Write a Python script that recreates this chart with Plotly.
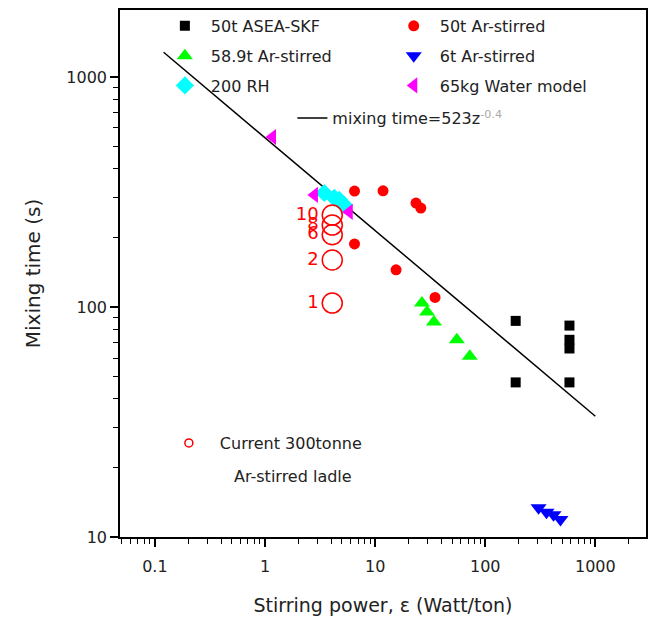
import plotly.graph_objects as go

# ---- data ----
asea_x = [189, 189, 582, 582, 582, 582]
asea_y = [87, 47, 83, 72, 66, 47]

ar50_x = [6.5, 11.8, 23.5, 26, 6.5, 15.5, 35]
ar50_y = [319, 320, 283, 269, 188, 145, 110]

ar589_x = [26.6, 29.6, 34.2, 55.2, 72.4]
ar589_y = [104, 95, 86, 72, 61]

ar6_x = [305, 360, 417, 482]
ar6_y = [13.4, 12.8, 12.5, 11.9]

rh_x = [3.45, 4.26, 5.24, 4.72]
rh_y = [313, 298, 277, 292]

water_x = [1.17, 2.81, 5.82]
water_y = [548, 307, 259]

fit_x = [0.12, 1000]
fit_y = [1280, 33.5]

cur_x = [4.08, 4.08, 4.08, 4.08, 4.08]
cur_y = [104, 160, 206, 227, 251]
cur_lbl = ["1", "2", "6", "8", "10"]

xticks = [0.1, 1, 10, 100, 1000]
yticks = [10, 100, 1000]

FONT = "DejaVu Sans"

fig = go.Figure()

def add(name, x, y, symbol, color, size, legend, group):
    fig.add_trace(go.Scatter(
        x=x, y=y, mode="markers", name=name, legend=legend, legendgroup=group,
        marker=dict(symbol=symbol, color=color, size=size, line=dict(width=0)),
    ))

fig.add_trace(go.Scatter(
    x=fit_x, y=fit_y, mode="lines", legend="legend3",
    name='mixing time=523z<sup><span style="color:#aaaaaa">-0.4</span></sup>',
    line=dict(color="black", width=1.5),
))

add("50t ASEA-SKF", asea_x, asea_y, "square", "#000000", 10, "legend", "a")
add("58.9t Ar-stirred", ar589_x, ar589_y, "triangle-up", "#00ff00", 14, "legend", "b")
add("200 RH", rh_x, rh_y, "diamond", "#00ffff", 14, "legend", "c")
add("50t Ar-stirred", ar50_x, ar50_y, "circle", "#ff0000", 11, "legend2", "d")
add("6t Ar-stirred", ar6_x, ar6_y, "triangle-down", "#0000ff", 14, "legend2", "e")
add("65kg Water model", water_x, water_y, "triangle-left", "#ff00ff", 14, "legend2", "f")

fig.add_trace(go.Scatter(
    x=cur_x, y=cur_y, mode="markers+text", text=cur_lbl, textposition="middle left",
    textfont=dict(family=FONT, size=18, color="#ff0000"), showlegend=False,
    marker=dict(symbol="circle-open", color="#ff0000", size=20, line=dict(width=1.5)),
))
# legend-only entry for the current ladle
fig.add_trace(go.Scatter(
    x=[None], y=[None], mode="markers", name="Current 300tonne", legend="legend4",
    marker=dict(symbol="circle-open", color="#ff0000", size=8, line=dict(width=1.5)),
))

minor_x = [k * 10 ** n for n in range(-2, 4) for k in range(2, 10)]
minor_y = [k * 10 ** n for n in range(1, 4) for k in range(2, 10)]

fig.update_xaxes(
    type="log", range=[-1.317, 3.46], tickvals=xticks, ticktext=["0.1", "1", "10", "100", "1000"],
    ticks="outside", ticklen=8, tickwidth=1.5, tickcolor="black", ticklabelstandoff=6,
    showline=True, linecolor="black", linewidth=1.5, mirror=True, showgrid=False, zeroline=False,
    minor=dict(tickvals=minor_x, ticks="outside", ticklen=5, tickwidth=1.2, tickcolor="black", showgrid=False),
    tickfont=dict(family=FONT, size=16, color="#222222"),
    title=dict(text="Stirring power, ε (Watt/ton)", font=dict(family=FONT, size=19, color="#222222"), standoff=24),
)
fig.update_yaxes(
    type="log", range=[1, 3.291], tickvals=yticks, ticktext=["10", "100", "1000"],
    ticks="outside", ticklen=8, tickwidth=1.5, tickcolor="black",
    showline=True, linecolor="black", linewidth=1.5, mirror=True, showgrid=False, zeroline=False,
    minor=dict(tickvals=minor_y, ticks="outside", ticklen=5, tickwidth=1.2, tickcolor="black", showgrid=False),
    tickfont=dict(family=FONT, size=16, color="#222222"),
    title=dict(text="Mixing time (s)", font=dict(family=FONT, size=20, color="#222222"), standoff=20),
)

leg_common = dict(bgcolor="rgba(0,0,0,0)", borderwidth=0, xanchor="left", yanchor="top",
                  font=dict(family=FONT, size=16, color="#222222"), tracegroupgap=6)
fig.update_layout(
    width=653, height=628,
    margin=dict(l=120, r=5, t=10, b=91),
    plot_bgcolor="white", paper_bgcolor="white",
    legend=dict(x=0.0739, y=1.002, itemwidth=42, **leg_common),
    legend2=dict(x=0.509, y=1.002, itemwidth=42, **leg_common),
    legend3=dict(x=0.3277, y=0.827, itemwidth=30, **leg_common),
    legend4=dict(x=0.072, y=0.2106, itemwidth=52, **leg_common),
    annotations=[dict(text="Ar-stirred ladle", xref="paper", yref="paper", x=0.212, y=0.1157,
                      xanchor="left", yanchor="middle", showarrow=False,
                      font=dict(family=FONT, size=16, color="#222222"))],
)

fig.write_html("out.html")
